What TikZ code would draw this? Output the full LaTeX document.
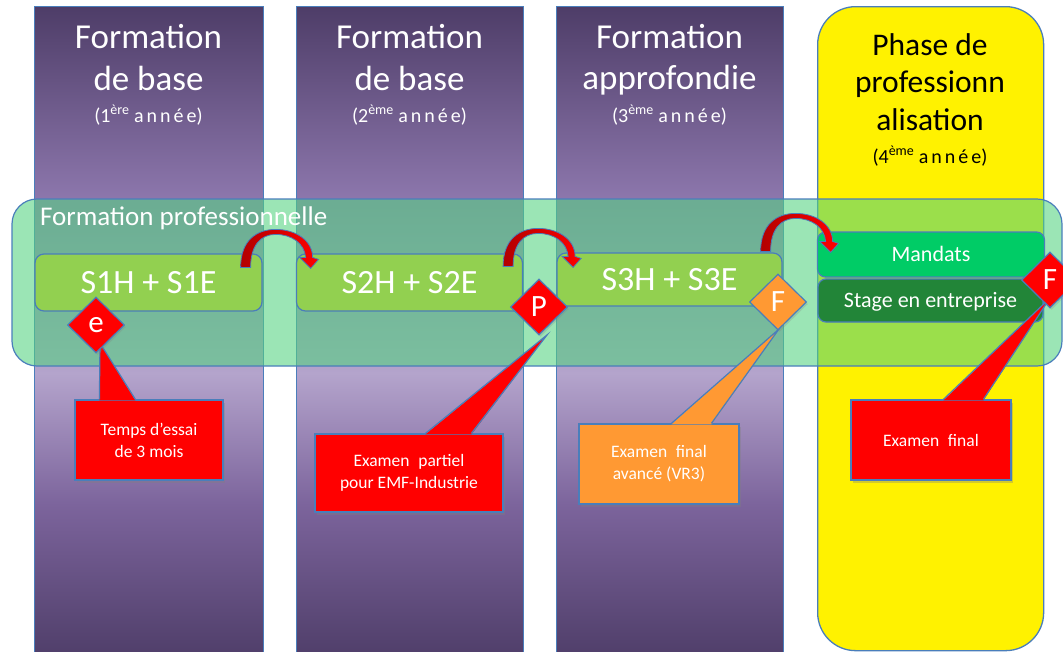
\documentclass[tikz,border=0pt]{standalone}
\usepackage{fontspec}
\setmainfont{Carlito}
\usetikzlibrary{shapes.geometric,shadows,calc}

\definecolor{bordb}{RGB}{74,126,187}
\definecolor{bandg}{RGB}{85,211,129}
\definecolor{pdark}{RGB}{78,61,104}
\definecolor{pmid}{RGB}{124,100,156}
\definecolor{plight}{RGB}{180,164,204}
\definecolor{pup}{RGB}{142,120,174}
\definecolor{sgreen}{RGB}{146,208,80}
\definecolor{mgreen}{RGB}{0,204,102}
\definecolor{dgreen}{RGB}{34,133,56}
\definecolor{orangec}{RGB}{255,153,51}

\pgfdeclareverticalshading{purplecol}{100bp}{color(0bp)=(pdark); color(25bp)=(pdark); color(37bp)=(pmid); color(47bp)=(plight); color(60bp)=(pup); color(75bp)=(pdark); color(100bp)=(pdark)}

\newcommand\myfs[2]{\fontsize{#1}{#2}\selectfont}
\newcommand\ann{a\kern3pt n\kern3pt n\kern3pt é\kern3pt e}

\begin{document}
\begin{tikzpicture}[x=1pt,y=-1pt,
  pcol/.style={shading=purplecol, draw=bordb, line width=1.3, anchor=north west, inner sep=0},
  ycol/.style={fill=yellow, draw=bordb, line width=1.3, rounded corners=38, anchor=north west, inner sep=0},
  ttl/.style={anchor=base, text=white, inner sep=0, font=\myfs{35}{42}},
  ttlb/.style={anchor=base, text=black, inner sep=0, font=\myfs{31.5}{38}},
  subt/.style={anchor=base, text=white, inner sep=0, font=\myfs{20}{24}},
  band/.style={fill=bandg, fill opacity=0.59, draw=bordb, line width=1.2, rounded corners=25, inner sep=0},
  sbox/.style={fill=sgreen, draw=bordb, line width=1.2, rounded corners=9, text=white, inner sep=0, font=\myfs{34}{40}, text height=21.5, text depth=0},
  mbox/.style={draw=bordb, line width=1.2, rounded corners=8, text=white, inner sep=0, font=\myfs{22}{26}, text height=14, text depth=0},
  carrowfill/.style={left color=red!70!black, right color=red, draw=bordb, line width=0.8},
  carrow/.pic={\path[carrowfill] (0,0) .. controls (0,-27) and (16,-38) .. (35,-38)
      .. controls (55,-38) and (72,-27) .. (72,-10) -- (78,-8) -- (70,1) -- (59,-10) -- (65,-10)
      .. controls (64,-24) and (51,-33) .. (35,-33) .. controls (20,-33) and (10,-22) .. (10,0) -- cycle;},
  callbox/.style={draw=bordb, line width=1.2, text=white, align=center, inner sep=0, font=\myfs{17.5}{22},
      drop shadow={opacity=0.35, shadow xshift=2pt, shadow yshift=-3pt}},
  ptr/.style={draw=bordb, line width=1.2, line join=miter},
  diam/.style={shape=diamond, draw=bordb, line width=1.2, text=white, inner sep=0, minimum width=57, minimum height=56,
      font=\myfs{31}{31}, drop shadow={opacity=0.25, shadow xshift=1.5pt, shadow yshift=-2pt}}
]
\useasboundingbox (0,0) rectangle (1063,651);

% columns
\node[pcol, minimum width=229, minimum height=655] (col1) at (34,6) {};
\node[pcol, minimum width=227, minimum height=655] (col2) at (296,6) {};
\node[pcol, minimum width=227, minimum height=655] (col3) at (556,6) {};
\node[ycol, minimum width=226, minimum height=644] (col4) at (817,6) {};

% titles
\node[ttl] (t1a) at (148.5,48) {Formation};
\node[ttl] (t1b) at (148.5,90) {de base};
\node[subt] (t1c) at (148.5,122) {(1\textsuperscript{ère} \ann)};
\node[ttl] (t2a) at (409.5,48) {Formation};
\node[ttl] (t2b) at (409.5,90) {de base};
\node[subt] (t2c) at (409.5,122) {(2\textsuperscript{ème} \ann)};
\node[ttl] (t3a) at (669.5,48) {Formation};
\node[ttl] (t3b) at (669.5,89) {approfondie};
\node[subt] (t3c) at (669.5,122) {(3\textsuperscript{ème} \ann)};
\node[ttlb] (t4a) at (930,55) {Phase de};
\node[ttlb] (t4b) at (930,92) {professionn};
\node[ttlb] (t4c) at (930,130) {alisation};
\node[subt, text=black] (t4d) at (930,163) {(4\textsuperscript{ème} \ann)};

% band
\node[band, minimum width=1050, minimum height=167] (band) at (537,282.5) {};
\node[anchor=base west, text=white, inner sep=0, font=\myfs{27}{30}] (bandlbl) at (40,225) {Formation professionnelle};

% semester boxes
\node[sbox, minimum width=227, minimum height=57] (s1) at (148.5,282.5) {S1H + S1E};
\node[sbox, minimum width=226, minimum height=57] (s2) at (409.5,282.5) {S2H + S2E};
\node[sbox, minimum width=225, minimum height=53] (s3) at (669.5,279.5) {S3H + S3E};
\node[mbox, fill=mgreen, minimum width=227, minimum height=45] (mand) at (931,254.5) {Mandats};
\node[mbox, fill=dgreen, minimum width=225, minimum height=43] (stage) at (930.5,300.5) {Stage en entreprise};

% curved arrows
\pic at ($(s1.north east)+(-22,14)$) {carrow};
\pic at ($(s2.north east)+(-20,13)$) {carrow};
\pic at ($(s3.north east)+(-22,-1)$) {carrow};

% callouts
\node[callbox, fill=red, minimum width=148, minimum height=80] (c1) at (149,440) {Temps d’essai\\de 3 mois};
\node[callbox, fill=red, minimum width=188, minimum height=78] (c2) at (409,473) {Examen\enspace partiel\\pour EMF-Industrie};
\node[callbox, fill=orangec, minimum width=160, minimum height=80] (c3) at (659,464) {Examen\enspace final\\avancé (VR3)};
\node[callbox, fill=red, minimum width=160, minimum height=80] (c4) at (931,440) {Examen\enspace final};

\coordinate (tip1) at (100,343);
\coordinate (tip2) at (547,335);
\coordinate (tip3) at (779,329);
\coordinate (tip4) at (1050,298);

\fill[red] ($(c1.north west)+(25,1)$) -- (tip1) -- ($(c1.north west)+(61,1)$) -- cycle;
\draw[ptr] ($(c1.north west)+(25,0)$) -- (tip1) -- ($(c1.north west)+(61,0)$);
\fill[red] ($(c2.north west)+(111,1)$) -- (tip2) -- ($(c2.north west)+(157,1)$) -- cycle;
\draw[ptr] ($(c2.north west)+(111,0)$) -- (tip2) -- ($(c2.north west)+(157,0)$);
\fill[orangec] ($(c3.north west)+(93,1)$) -- (tip3) -- ($(c3.north west)+(133,1)$) -- cycle;
\draw[ptr] ($(c3.north west)+(93,0)$) -- (tip3) -- ($(c3.north west)+(133,0)$);
\fill[red] ($(c4.north west)+(93,1)$) -- (tip4) -- ($(c4.north west)+(133,1)$) -- cycle;
\draw[ptr] ($(c4.north west)+(93,0)$) -- (tip4) -- ($(c4.north west)+(133,0)$);

% diamonds
\node[diam, fill=red] (de) at (96,325) {e};
\node[diam, fill=red] (dp) at (539,307) {P};
\node[diam, fill=orangec] (df) at (778,302) {F};
\node[diam, fill=red] (dfr) at (1050,280) {F};
\end{tikzpicture}
\end{document}
